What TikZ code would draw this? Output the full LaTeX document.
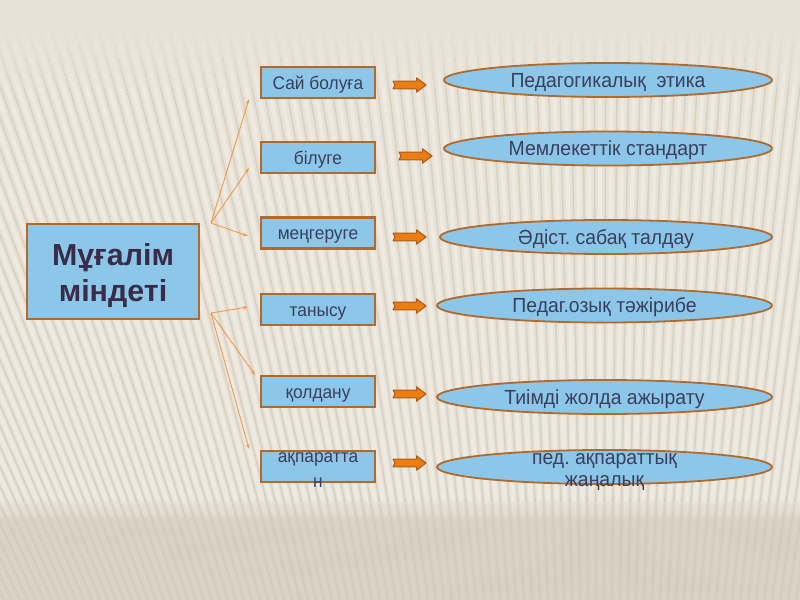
\documentclass[tikz,border=0pt]{standalone}
\usepackage{fontspec}
\setmainfont{Liberation Sans}
\newfontfamily\condfont[FakeStretch=0.95]{Liberation Sans}
\usetikzlibrary{arrows.meta,shapes.geometric}
\frenchspacing
\definecolor{bgtop}{HTML}{E8E2D6}
\definecolor{bgbot}{HTML}{D6CFC1}
\definecolor{boxfill}{HTML}{8CC7E9}
\definecolor{boxline}{HTML}{B06A2C}
\definecolor{txt}{HTML}{3B3E5C}
\definecolor{maintxt}{HTML}{3A2C48}
\definecolor{arrfill}{HTML}{EC7D10}
\definecolor{arrline}{HTML}{A95A1C}
\definecolor{connc}{HTML}{EE9A4E}
\definecolor{stripedark}{HTML}{BFB6A4}
\tikzset{
  boxfont/.style={font=\condfont\fontsize{18.3}{23}\selectfont},
  ellfont/.style={font=\condfont\fontsize{20.5}{22}\selectfont},
  sbox/.style={draw=boxline, line width=2.2bp, fill=boxfill, minimum width=114bp,
    minimum height=31bp, inner sep=0pt, text=txt, text height=14bp, text depth=0pt,
    boxfont},
  ell/.style={ellipse, draw=boxline, line width=1.8bp, fill=boxfill, inner sep=0pt,
    minimum height=34bp, text=txt, text height=14.5bp, text depth=0pt, ellfont},
  mainbox/.style={draw=boxline, line width=2.2bp, fill=boxfill, minimum width=172bp,
    minimum height=95bp, inner sep=0pt},
  maintext/.style={anchor=base, inner sep=0pt, text=maintxt, font=\bfseries\fontsize{30.5}{36}\selectfont},
  linetext/.style={anchor=base, inner sep=0pt, text=txt},
  conn/.style={draw=connc, line width=0.9bp, -{Stealth[length=5bp,width=3.5bp]}},
  barrow/.pic={\draw[fill=arrfill, draw=arrline, line width=1bp, line join=round]
    (-16.5,-3.8) -- (7,-3.8) -- (7,-7.2) -- (16.5,0) -- (7,7.2) -- (7,3.8)
    -- (-16.5,3.8) -- (-14.5,0) -- cycle;}
}
\newcommand\mystripes[1]{%
  \foreach \i in {-45,...,80} {
    \draw[white, line width=4bp, opacity=0.30*#1] (\i*12,0) -- (600,1800);
    \draw[stripedark, line width=1.6bp, opacity=0.35*#1] (\i*12+6,0) -- (600,1800);
  }}
\begin{document}
\begin{tikzpicture}[x=1bp,y=-1bp]
% background
\fill[bgtop] (0,0) rectangle (800,495);
\shade[top color=bgtop, bottom color=bgbot] (0,495) rectangle (800,522);
\fill[bgbot] (0,522) rectangle (800,600);
\useasboundingbox (0,0) rectangle (800,600);
\foreach \ya/\yb/\f in {30/45/0.15, 45/60/0.3, 60/75/0.5, 75/90/0.75, 90/500/1, 500/515/0.6, 515/600/0.3} {
  \begin{scope}
    \clip (0,\ya) rectangle (800,\yb);
    \mystripes{\f}
  \end{scope}
}

% main box
\node[mainbox] (m) at (113,271.5) {};
\node[maintext] (m1) at (113,265) {Мұғалім};
\node[maintext] (m2) at (113,301) {міндеті};

% small boxes
\node[sbox] (b1) at (318,82.5) {Сай болуға};
\node[sbox] (b2) at (318,157.5) {білуге};
\node[sbox] (b3) at (318,233) {меңгеруге};
\node[sbox] (b4) at (318,309.5) {танысу};
\node[sbox] (b5) at (318,391.5) {қолдану};
\node[sbox] (b6) at (318,466.5) {};
\node[linetext, boxfont] (b6a) at (318,462) {ақпаратта};
\node[linetext, boxfont] (b6b) at (318,487) {н};

% ellipses
\node[ell, minimum width=328bp] (e1) at (608,80) {Педагогикалық~ этика};
\node[ell, minimum width=328bp] (e2) at (608,148.5) {Мемлекеттік стандарт};
\node[ell, minimum width=332bp] (e3) at (606,237) {Әдіст. сабақ талдау};
\node[ell, minimum width=335bp] (e4) at (604.5,305.5) {Педаг.озық тәжірибе};
\node[ell, minimum width=335bp] (e5) at (604.5,397) {Тиімді жолда ажырату};
\node[ell, minimum width=335bp] (e6) at (604.5,467) {};
\node[linetext, ellfont] (e6a) at (604.5,464) {пед. ақпараттық};
\node[linetext, ellfont] (e6b) at (604.5,486) {жаңалық};

% block arrows
\pic at (409.5,85) {barrow};
\pic at (415.5,156) {barrow};
\pic at (409.5,237) {barrow};
\pic at (409.5,306) {barrow};
\pic at (409.5,394) {barrow};
\pic at (409.5,463) {barrow};

% fan connectors
\coordinate (fa) at (211,223);
\coordinate (fb) at (211,313);
\coordinate (t1) at (249,99);
\coordinate (t2) at (249,168);
\coordinate (t3) at (248,236);
\coordinate (t4) at (248,307);
\coordinate (t5) at (255,375);
\coordinate (t6) at (249,449);
\draw[conn] (fa) -- (t1);
\draw[conn] (fa) -- (t2);
\draw[conn] (fa) -- (t3);
\draw[conn] (fb) -- (t4);
\draw[conn] (fb) -- (t5);
\draw[conn] (fb) -- (t6);
\end{tikzpicture}
\end{document}
